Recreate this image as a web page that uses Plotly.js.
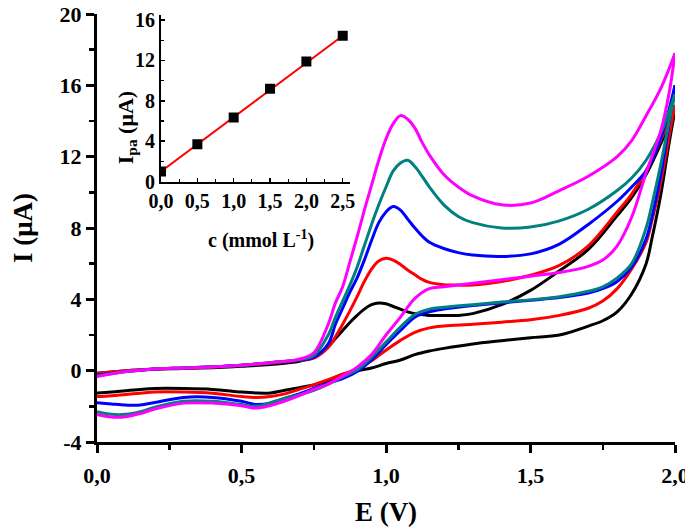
<!DOCTYPE html>
<html>
<head>
<meta charset="utf-8">
<script src="https://cdn.plot.ly/plotly-3.0.1.min.js"></script>
<style>html,body{margin:0;padding:0;background:#fff;}#chart{width:685px;height:531px;}</style>
</head>
<body>
<div id="chart"></div>
<script>
// Forward (anodic) scan potentials, V
const eFwd = [0,0.1,0.2,0.3,0.4,0.5,0.6,0.7,0.75,0.8,0.825,0.85,0.875,0.9,0.925,0.95,0.975,1.0,1.025,1.05,1.075,1.1,1.125,1.15,1.2,1.25,1.3,1.4,1.5,1.6,1.7,1.8,1.85,1.9,1.95,2.0];
// Reverse scan potentials, V
const eRev = [2.0,1.98,1.95,1.92,1.9,1.85,1.8,1.75,1.7,1.6,1.5,1.4,1.3,1.2,1.15,1.1,1.05,1.0,0.95,0.9,0.85,0.8,0.75,0.7,0.65,0.6,0.55,0.5,0.4,0.3,0.2,0.15,0.1,0.05,0];

// Currents, µA
const blackFwd   = [-0.15,0.0,0.08,0.12,0.17,0.25,0.35,0.52,0.8,1.35,1.8,2.25,2.7,3.1,3.45,3.7,3.8,3.75,3.6,3.45,3.3,3.2,3.15,3.1,3.1,3.1,3.2,3.7,4.5,5.6,6.8,8.7,9.7,11.0,12.7,14.6];
const redFwd     = [-0.15,0.0,0.1,0.15,0.2,0.3,0.42,0.58,0.7,1.3,1.9,2.6,3.35,4.15,5.0,5.7,6.15,6.3,6.2,5.95,5.65,5.38,5.12,4.95,4.82,4.8,4.8,5.0,5.35,5.9,7.0,8.9,9.9,11.2,12.9,14.9];
const blueFwd    = [-0.25,-0.05,0.1,0.15,0.22,0.3,0.45,0.6,0.75,1.5,2.6,3.5,4.4,5.2,6.2,7.3,8.3,8.9,9.2,9.0,8.5,8.0,7.55,7.2,6.85,6.62,6.48,6.4,6.55,7.1,8.2,9.5,10.3,11.2,13.0,16.0];
const tealFwd    = [-0.3,-0.05,0.1,0.15,0.22,0.3,0.45,0.62,0.85,2.0,3.0,3.9,4.8,5.8,7.0,8.2,9.3,10.3,11.2,11.65,11.8,11.45,10.9,10.3,9.3,8.65,8.3,8.0,8.05,8.4,9.05,10.1,10.8,11.8,13.3,15.5];
const magentaFwd = [-0.33,-0.05,0.1,0.15,0.2,0.3,0.45,0.65,1.0,2.6,3.8,4.7,6.1,7.5,9.0,10.4,11.8,13.0,13.85,14.3,14.1,13.6,12.8,12.1,11.0,10.3,9.8,9.3,9.4,10.1,10.9,12.0,12.9,14.3,15.8,17.8];

const blackRev   = [14.6,12.8,9.8,7.4,6.0,4.3,3.3,2.8,2.5,2.0,1.85,1.68,1.5,1.25,1.1,0.9,0.6,0.4,0.15,0.0,-0.2,-0.55,-0.8,-0.95,-1.1,-1.25,-1.25,-1.2,-1.05,-1.0,-1.0,-1.05,-1.12,-1.2,-1.25];
const redRev     = [14.9,13.2,10.5,8.4,7.2,5.7,4.6,3.9,3.5,3.1,2.85,2.72,2.6,2.5,2.4,2.15,1.7,1.15,0.55,0.1,-0.2,-0.5,-0.8,-1.05,-1.3,-1.45,-1.5,-1.45,-1.27,-1.2,-1.2,-1.27,-1.33,-1.4,-1.45];
const blueRev    = [16.0,13.9,10.9,8.6,7.4,5.8,5.0,4.6,4.35,4.1,3.95,3.8,3.65,3.45,3.3,3.0,2.25,1.45,0.6,-0.05,-0.45,-0.7,-1.0,-1.3,-1.55,-1.82,-1.9,-1.72,-1.5,-1.5,-1.78,-1.93,-1.93,-1.87,-1.8];
const tealRev    = [15.5,14.0,11.5,9.3,8.0,6.0,5.2,4.7,4.45,4.15,3.97,3.85,3.7,3.55,3.45,3.15,2.45,1.6,0.75,0.05,-0.35,-0.75,-1.1,-1.35,-1.55,-1.8,-2.0,-1.9,-1.72,-1.72,-2.05,-2.3,-2.45,-2.45,-2.3];
const magentaRev = [17.8,15.6,13.4,12.0,11.1,8.6,7.0,6.2,5.85,5.5,5.3,5.1,4.9,4.7,4.6,4.05,3.0,2.0,0.9,0.2,-0.3,-0.75,-1.05,-1.4,-1.7,-1.95,-2.1,-1.97,-1.82,-1.82,-2.15,-2.4,-2.58,-2.6,-2.46];

// Inset: peak current vs concentration
const conc = [0,0.5,1.0,1.5,2.0,2.5];
const ipa  = [1.0,3.7,6.35,9.2,11.9,14.45];
const fitConc = [0,2.5];
const fitIpa  = [1.0,14.45];

// Tick labels
const yTickVals = [-4,0,4,8,12,16,20];
const yTickText = ['-4','0','4','8','12','16','20'];
const insetYTickVals = [0,4,8,12,16];
const insetXTickVals = [0,0.5,1.0,1.5,2.0,2.5];

const FONT = 'Liberation Serif, Times New Roman, serif';
const series = [
  {name:'black',   color:'#000000', f:blackFwd,   r:blackRev},
  {name:'red',     color:'#ff0000', f:redFwd,     r:redRev},
  {name:'blue',    color:'#0000ff', f:blueFwd,    r:blueRev},
  {name:'teal',    color:'#008080', f:tealFwd,    r:tealRev},
  {name:'magenta', color:'#ff00ff', f:magentaFwd, r:magentaRev}
];
const traces = [];
series.forEach(s => {
  traces.push({x:eFwd, y:s.f, type:'scatter', mode:'lines', line:{color:s.color, width:3, shape:'spline', smoothing:1}, showlegend:false, hoverinfo:'skip'});
  traces.push({x:eRev, y:s.r, type:'scatter', mode:'lines', line:{color:s.color, width:3, shape:'spline', smoothing:1}, showlegend:false, hoverinfo:'skip'});
});
traces.push({x:fitConc, y:fitIpa, xaxis:'x2', yaxis:'y2', type:'scatter', mode:'lines', line:{color:'#ff0000', width:2}, showlegend:false});
traces.push({x:conc, y:ipa, xaxis:'x2', yaxis:'y2', type:'scatter', mode:'markers', marker:{symbol:'square', size:10, color:'#000000'}, showlegend:false});

const W=685, H=531, L=97, R=10, T=13.5, B=88.5;
const pw = W-L-R, ph = H-T-B;
const px2x = p => (p-L)/pw;
const py2y = p => (H-B-p)/ph;

const tickFont = {family:FONT, size:22, color:'#000', weight:'bold'};
const insetFont = {family:FONT, size:20, color:'#000', weight:'bold'};

const layout = {
  width:W, height:H,
  margin:{l:L, r:R, t:T, b:B, pad:0},
  paper_bgcolor:'#fff', plot_bgcolor:'#fff',
  separators:', ',
  showlegend:false,
  xaxis:{
    range:[0,2.0], showline:true, linecolor:'#000', linewidth:3, mirror:false,
    showgrid:false, zeroline:false, ticks:'outside', ticklen:8, tickwidth:3, tickcolor:'#000',
    tick0:0, dtick:0.5, tickformat:'.1f', tickfont:tickFont, ticklabeloverflow:'allow', ticklabelstandoff:4,
    minor:{dtick:0.25, ticks:'outside', ticklen:5, tickwidth:2.5, tickcolor:'#000', showgrid:false},
    title:{text:'E (V)', font:{family:FONT, size:27, color:'#000', weight:'bold'}, standoff:15},
    automargin:false
  },
  yaxis:{
    range:[-4,20], showline:true, linecolor:'#000', linewidth:3,
    showgrid:false, zeroline:false, ticks:'outside', ticklen:8, tickwidth:3, tickcolor:'#000',
    tickmode:'array', tickvals:yTickVals, ticktext:yTickText, tickfont:tickFont, ticklabeloverflow:'allow',
    minor:{tickmode:'linear', tick0:-2, dtick:4, ticks:'outside', ticklen:5, tickwidth:2.5, tickcolor:'#000', showgrid:false},
    title:{text:'I (μA)', font:{family:FONT, size:27, color:'#000', weight:'bold'}, standoff:20},
    automargin:false
  },
  xaxis2:{
    domain:[px2x(161), px2x(350)], anchor:'y2', range:[0,2.6],
    showline:true, linecolor:'#000', linewidth:2, showgrid:false, zeroline:false,
    ticks:'inside', ticklen:4, tickwidth:1.5, tickcolor:'#000',
    tickmode:'array', tickvals:insetXTickVals, tickformat:'.1f', tickfont:insetFont, ticklabelstandoff:0,
    minor:{tickmode:'linear', tick0:0.25, dtick:0.5, ticks:'inside', ticklen:3, tickwidth:1.2, tickcolor:'#000'}
  },
  yaxis2:{
    domain:[py2y(181.5), py2y(15)], anchor:'x2', range:[0,16.45],
    showline:true, linecolor:'#000', linewidth:2, showgrid:false, zeroline:false,
    ticks:'inside', ticklen:4, tickwidth:1.5, tickcolor:'#000',
    tickmode:'array', tickvals:insetYTickVals, tickfont:insetFont,
    minor:{tickmode:'linear', tick0:2, dtick:4, ticks:'inside', ticklen:3, tickwidth:1.2, tickcolor:'#000'}
  },
  annotations:[
    {xref:'paper', yref:'paper', x:px2x(127), y:py2y(128), text:'I<sub>pa</sub> (μA)', textangle:-90, showarrow:false,
     font:{family:FONT, size:22, color:'#000', weight:'bold'}, xanchor:'center', yanchor:'middle'},
    {xref:'paper', yref:'paper', x:px2x(261), y:py2y(240), text:'c (mmol L<sup>-1</sup>)', showarrow:false,
     font:{family:FONT, size:20, color:'#000', weight:'bold'}, xanchor:'center', yanchor:'middle'}
  ]
};
Plotly.newPlot('chart', traces, layout, {staticPlot:true, displayModeBar:false});
</script>
</body>
</html>
